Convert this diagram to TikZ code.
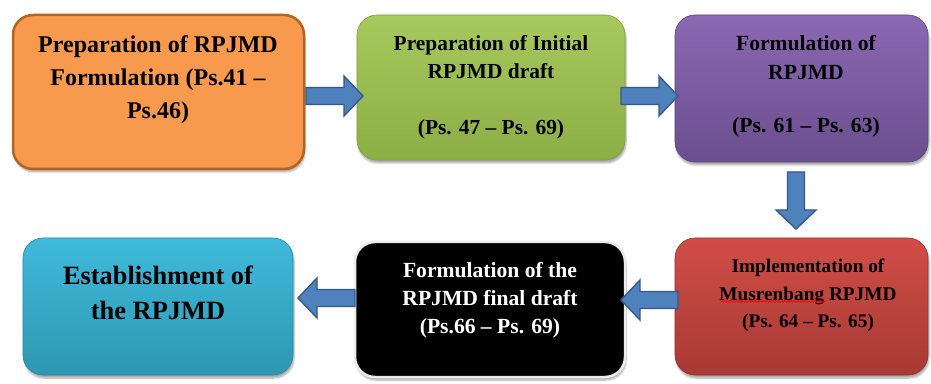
\documentclass[tikz,border=0pt]{standalone}
\usepackage{fontspec}
\setmainfont{Liberation Serif}
\usetikzlibrary{shadows.blur,decorations.pathmorphing}
\definecolor{orfill}{HTML}{F79A4E}
\definecolor{ordraw}{HTML}{B4641F}
\definecolor{grtop}{HTML}{A6C85C}
\definecolor{grbot}{HTML}{8CAE45}
\definecolor{putop}{HTML}{8B68B3}
\definecolor{pubot}{HTML}{6A4E8E}
\definecolor{retop}{HTML}{D14D47}
\definecolor{rebot}{HTML}{A83934}
\definecolor{cytop}{HTML}{3FBADB}
\definecolor{cybot}{HTML}{2E97B2}
\definecolor{arfill}{HTML}{4F81BD}
\definecolor{ardraw}{HTML}{35598A}
\tikzset{
  box/.style={rectangle, rounded corners=20pt, inner sep=0pt,
    blur shadow={shadow xshift=1pt, shadow yshift=-3pt, shadow opacity=35, shadow blur steps=6}},
  txt/.style={align=center, font=\bfseries, inner sep=0pt},
  barrow/.style={fill=arfill, draw=ardraw, line width=1.4pt, line join=miter},
  blockarrow/.pic={\path[barrow] (0,-8.5) -- (38,-8.5) -- (38,-20) -- (57,0) -- (38,20) -- (38,8.5) -- (0,8.5) -- cycle;}
}
\begin{document}
\begin{tikzpicture}[x=1pt,y=1pt]
\useasboundingbox (0,0) rectangle (931,383);
% boxes
\node[box, fill=orfill, draw=ordraw, line width=2.5pt, minimum width=291pt, minimum height=154pt] (b1) at (158.5,291) {};
\node[box, top color=grtop, bottom color=grbot, draw=grbot!90!black, line width=0.6pt, minimum width=268pt, minimum height=145pt] (b2) at (491,295.5) {};
\node[box, top color=putop, bottom color=pubot, draw=pubot!90!black, line width=0.6pt, minimum width=253pt, minimum height=147pt] (b3) at (801.5,294.5) {};
\node[box, top color=retop, bottom color=rebot, draw=rebot!90!black, line width=0.6pt, minimum width=253pt, minimum height=137pt] (b4) at (801.5,76.5) {};
\node[box, fill=black, draw=black!8, line width=2.5pt, minimum width=270pt, minimum height=135pt] (b5) at (490,73.5) {};
\node[box, top color=cytop, bottom color=cybot, draw=cybot!90!black, line width=0.6pt, minimum width=270pt, minimum height=137pt] (b6) at (158,76.5) {};
% arrows
\pic at (306,287) {blockarrow};
\pic at (621,287) {blockarrow};
\pic[rotate=-90] at (796,211) {blockarrow};
\pic[rotate=180] at (678,83) {blockarrow};
\pic[rotate=180] at (355,85) {blockarrow};
% texts
\node[txt, font=\bfseries\fontsize{24}{33}\selectfont] (t1) at (158,303.5) {Preparation of RPJMD\\Formulation (Ps.41 –\\Ps.46)};
\node[txt, font=\bfseries\fontsize{21.4}{28}\selectfont] (t2) at (491,295.5) {Preparation of Initial\\RPJMD draft\\[28pt](Ps. 47 – Ps. 69)};
\node[txt, font=\bfseries\fontsize{21.6}{29}\selectfont] (t3) at (806,296.5) {Formulation of\\RPJMD\\[24pt](Ps. 61 – Ps. 63)};
\node[txt, font=\bfseries\fontsize{19.3}{27.5}\selectfont] (t4) at (808,87.5) {Implementation of\\Musrenbang RPJMD\\(Ps. 64 – Ps. 65)};
\node[txt, text=white, font=\bfseries\fontsize{21.6}{28}\selectfont] (t5) at (490,83) {Formulation of the\\RPJMD final draft\\(Ps.66 – Ps. 69)};
\node[txt, font=\bfseries\fontsize{26.4}{35}\selectfont] (t6) at (158,90.5) {Establishment of\\the RPJMD};
% spell-check underline
\coordinate (u1) at (721,81.5);
\coordinate (u2) at (825,81.5);
\draw[red, line width=0.7pt, decorate, decoration={snake, segment length=3pt, amplitude=0.8pt}] (u1) -- (u2);
\end{tikzpicture}
\end{document}
